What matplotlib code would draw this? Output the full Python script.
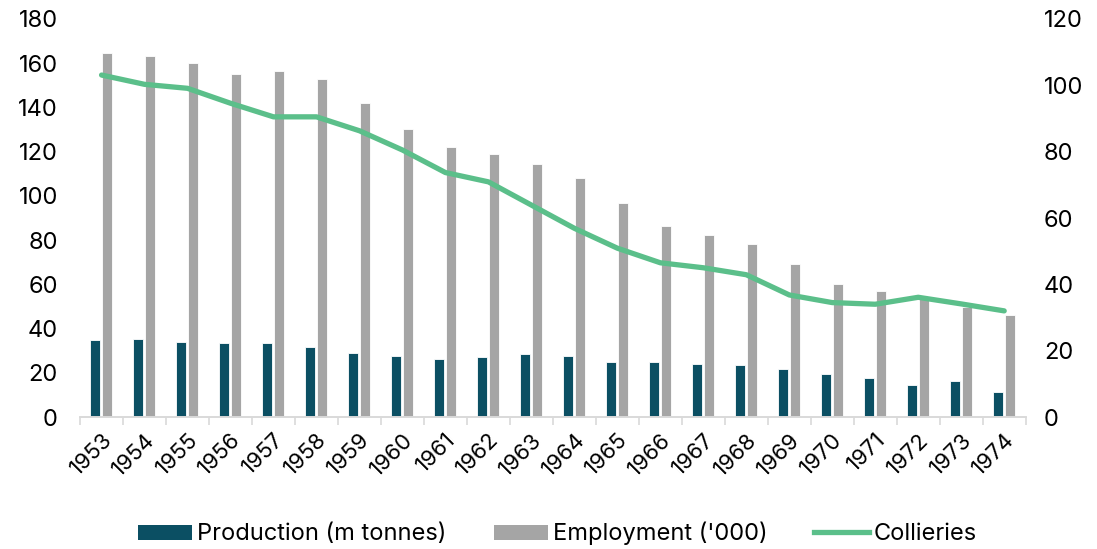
import matplotlib.pyplot as plt
import numpy as np
from matplotlib.patches import Patch
from matplotlib.lines import Line2D

plt.rcParams['font.family'] = ['Inter', 'DejaVu Sans']

# Data
years = [str(y) for y in range(1953, 1975)]
production = [34.8, 35.3, 34.0, 33.5, 33.6, 31.5, 29.1, 27.7, 26.1, 27.3, 28.3,
              27.6, 24.9, 24.7, 24.1, 23.5, 21.9, 19.3, 17.6, 14.6, 16.1, 11.2]
employment = [164.5, 163.3, 160.2, 155.3, 156.5, 152.7, 141.9, 130.1, 122.0, 119.0, 114.3,
              107.9, 96.6, 86.4, 82.3, 78.1, 69.2, 60.2, 57.0, 53.5, 49.7, 46.0]
collieries = [103.1, 100.3, 99.1, 94.6, 90.5, 90.5, 86.3, 80.5, 73.7, 70.9, 63.9,
              56.9, 50.9, 46.5, 45.0, 42.9, 36.8, 34.5, 34.0, 36.1, 34.1, 32.0]

c_prod = '#0b4f63'
c_emp = '#a5a5a5'
c_coll = '#5bbf8a'

fig = plt.figure(figsize=(10.97, 5.49), dpi=100)
ax = fig.add_axes([0.073, 0.2404, 0.862, 0.725])
ax2 = ax.twinx()

x = np.arange(len(years))
w = 0.235
ax.bar(x - 0.15, production, width=w, color=c_prod, edgecolor='white', linewidth=0.6, zorder=2)
ax.bar(x + 0.13, employment, width=w, color=c_emp, edgecolor='white', linewidth=0.6, zorder=2)
ax2.plot(x, collieries, color=c_coll, linewidth=3.8, solid_capstyle='round', zorder=3)

ax.set_ylim(0, 180)
ax.set_yticks(range(0, 181, 20))
ax2.set_ylim(0, 120)
ax2.set_yticks(range(0, 121, 20))
ax.set_xlim(-0.5, len(years) - 0.5)

ax.set_xticks(x)
ax.set_xticklabels(years, rotation=45, ha='right', rotation_mode='anchor', fontsize=16)
ax.set_xticks(np.arange(-0.5, len(years), 1), minor=True)
ax.tick_params(axis='x', which='major', length=0, pad=9)
ax.tick_params(axis='x', which='minor', length=6, color='#d9d9d9', width=1.2)
ax.tick_params(axis='y', length=0, pad=16, labelsize=17)
ax2.tick_params(axis='y', length=0, pad=13, labelsize=17)

for a in (ax, ax2):
    for s in ['top', 'left', 'right']:
        a.spines[s].set_visible(False)
    a.spines['bottom'].set_color('#d9d9d9')
    a.spines['bottom'].set_linewidth(1.2)

# ensure line sits over the bars
ax2.set_zorder(ax.get_zorder() + 1)
ax2.patch.set_visible(False)

handles = [Patch(facecolor=c_prod, label='Production (m tonnes)'),
           Patch(facecolor=c_emp, label="Employment ('000)"),
           Line2D([0], [0], color=c_coll, linewidth=3.8, label='Collieries')]
fig.legend(handles=handles, loc='center', bbox_to_anchor=(0.508, 0.028), ncol=3,
           frameon=False, fontsize=17, handlelength=2.3, handleheight=0.6,
           handletextpad=0.2, columnspacing=2.0)

fig.savefig('out.png', dpi=100)
